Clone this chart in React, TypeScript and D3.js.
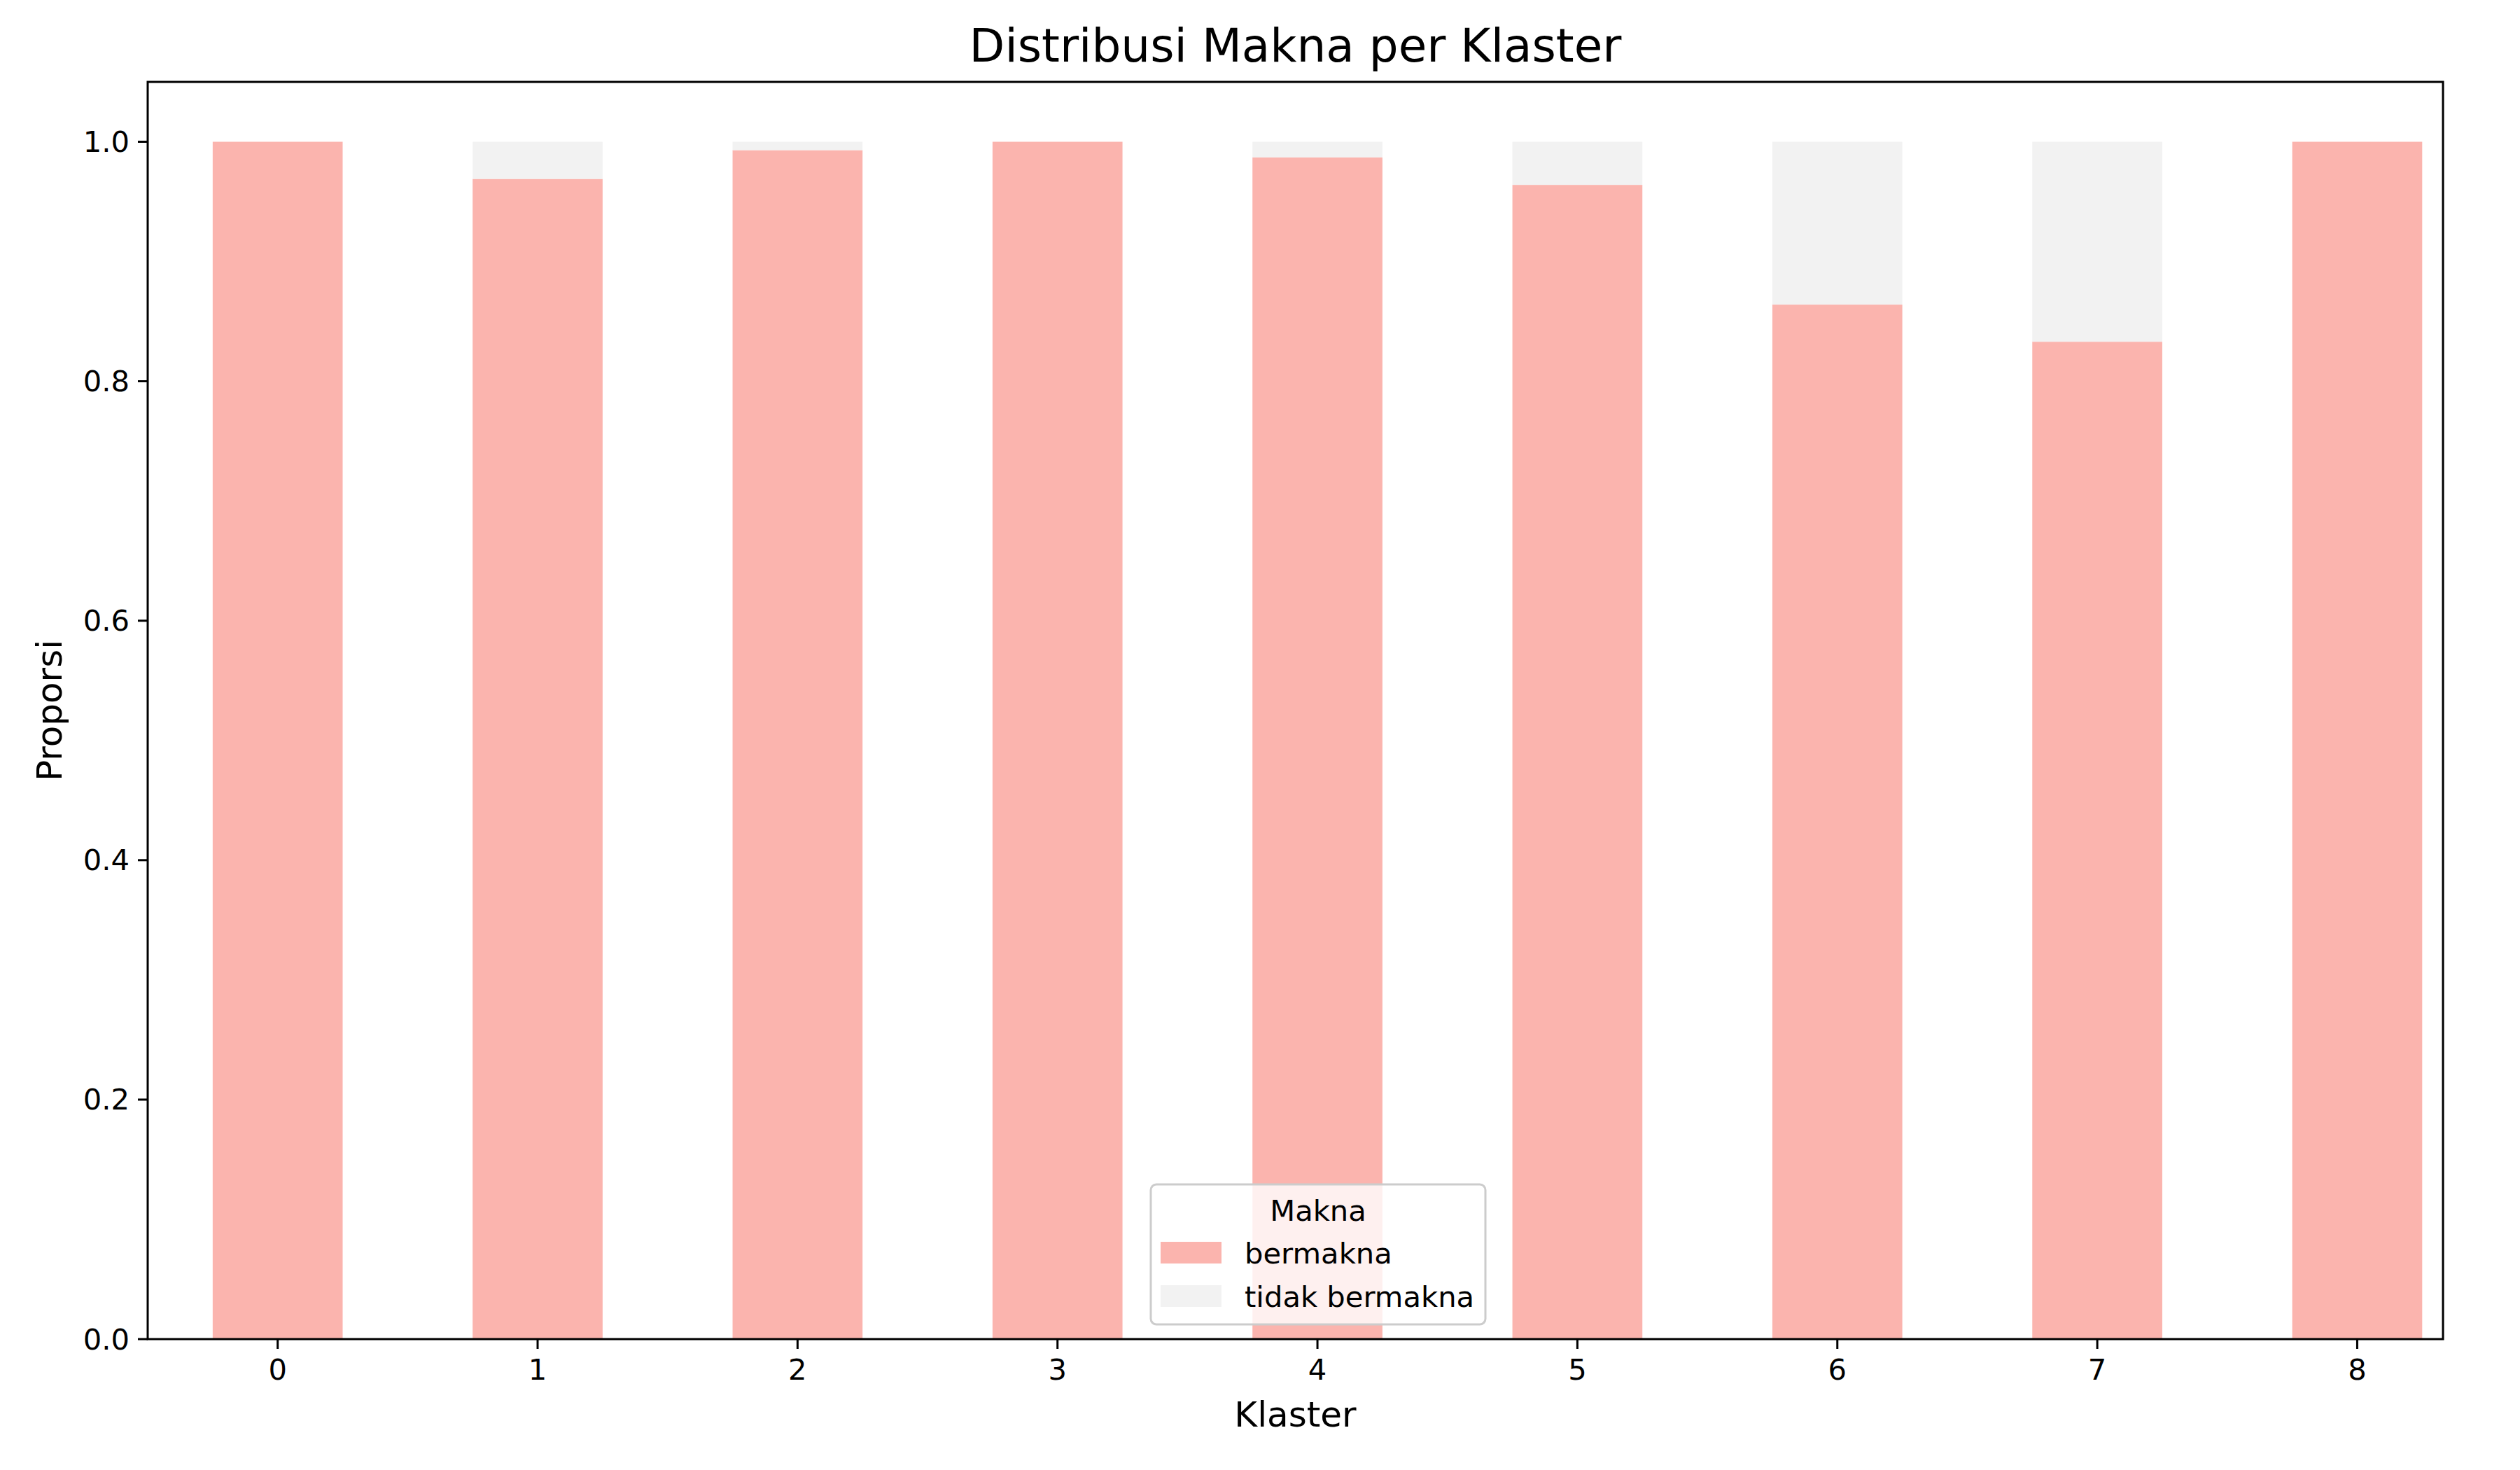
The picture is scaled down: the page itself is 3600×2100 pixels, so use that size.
import React from "react";
import * as d3 from "d3";

const categories = ["0", "1", "2", "3", "4", "5", "6", "7", "8"];
const bermakna = [1.0, 0.969, 0.993, 1.0, 0.987, 0.964, 0.864, 0.833, 1.0];
const tidakBermakna = bermakna.map((v) => 1 - v);
const yTicks = [0, 0.2, 0.4, 0.6, 0.8, 1.0];
const seriesNames = ["bermakna", "tidak bermakna"];
const colors = ["#fbb4ae", "#f2f2f2"];

export default function App() {
  const W = 3600, H = 2100;
  const L = 211, R = 3490, T = 117, B = 1913;
  const x = d3.scaleLinear().domain([-0.5, 8.33]).range([L, R]);
  const y = d3.scaleLinear().domain([0, 1.05]).range([B, T]);
  const bw = x(0.25) - x(-0.25);
  const font = "DejaVu Sans";
  return (
    <div style={{ position: "absolute", left: 0, top: 0 }}>
      <svg width={W} height={H} style={{ display: "block", background: "#fff" }} fontFamily={font}>
        {categories.map((c, i) => (
          <g key={c}>
            <rect x={x(i) - bw / 2} y={y(bermakna[i])} width={bw} height={y(0) - y(bermakna[i])} fill={colors[0]} />
            <rect x={x(i) - bw / 2} y={y(bermakna[i] + tidakBermakna[i])} width={bw} height={y(bermakna[i]) - y(bermakna[i] + tidakBermakna[i])} fill={colors[1]} />
          </g>
        ))}
        <rect x={L} y={T} width={R - L} height={B - T} fill="none" stroke="#000" strokeWidth={3} />
        {categories.map((c, i) => (
          <g key={"t" + c}>
            <line x1={x(i)} x2={x(i)} y1={B} y2={B + 14} stroke="#000" strokeWidth={3} />
            <text x={x(i)} y={B + 58} textAnchor="middle" fontSize={41.7}>{c}</text>
          </g>
        ))}
        {yTicks.map((t) => (
          <g key={"y" + t}>
            <line x1={L - 14} x2={L} y1={y(t)} y2={y(t)} stroke="#000" strokeWidth={3} />
            <text x={L - 26} y={y(t)} dy="0.35em" textAnchor="end" fontSize={41.7}>{t.toFixed(1)}</text>
          </g>
        ))}
        <text x={(L + R) / 2} y={88} textAnchor="middle" fontSize={66}>Distribusi Makna per Klaster</text>
        <text x={(L + R) / 2} y={2038} textAnchor="middle" fontSize={50}>Klaster</text>
        <text transform={`translate(88,${(T + B) / 2}) rotate(-90)`} textAnchor="middle" fontSize={50}>Proporsi</text>
        <g>
          <rect x={1644} y={1692} width={478} height={200} rx={8} fill="#fff" fillOpacity={0.8} stroke="#ccc" strokeWidth={3} />
          <text x={1883} y={1729} dy="0.35em" textAnchor="middle" fontSize={41.7}>Makna</text>
          {seriesNames.map((s, i) => (
            <g key={s}>
              <rect x={1658} y={1774 + i * 62} width={87} height={31} fill={colors[i]} />
              <text x={1778} y={1790 + i * 62} dy="0.35em" fontSize={41.7}>{s}</text>
            </g>
          ))}
        </g>
      </svg>
    </div>
  );
}
